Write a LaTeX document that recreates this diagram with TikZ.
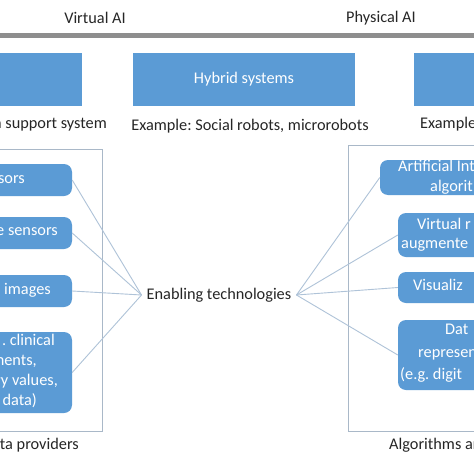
\documentclass[tikz,border=0pt]{standalone}
\usepackage{fontspec}
\setmainfont{Carlito}
\frenchspacing
\definecolor{boxblue}{HTML}{5B9BD5}
\definecolor{framecol}{HTML}{A9B8C8}
\definecolor{linecol}{HTML}{AFC3D8}
\definecolor{barcol}{HTML}{8E8E8E}
\begin{document}
\begin{tikzpicture}[x=1pt,y=-1pt,
  flat/.style={fill=boxblue,draw=none,inner sep=0pt},
  rbox/.style={fill=boxblue,draw=none,rounded corners=8pt,inner sep=0pt},
  frame/.style={draw=framecol,line width=0.9pt},
  conn/.style={draw=linecol,line width=0.9pt},
  lbl/.style={font=\fontsize{16.3}{19}\selectfont,text=black!85,inner sep=0pt},
  wtxt/.style={font=\fontsize{16.3}{19}\selectfont,text=white,inner sep=0pt}]
\useasboundingbox (0,0) rectangle (474,474);
\clip (0,0) rectangle (474,474);
\fill[white] (0,0) rectangle (474,474);
% header
\node[lbl] (va) at (95,18) {Virtual AI};
\node[lbl] (pa) at (381,18) {Physical AI};
\draw[barcol,line width=4.5pt] (-5,35.5) -- (480,35.5);
% top boxes
\node[flat,minimum width=92pt,minimum height=53pt] (tl) at (36,79.5) {};
\node[flat,minimum width=222pt,minimum height=53pt] (tm) at (244,79.5) {};
\node[wtxt] at (244,79.5) {Hybrid systems};
\node[flat,minimum width=70pt,minimum height=53pt] (tr) at (449,79.5) {};
\node[lbl,anchor=mid east] (c1) at (107,126) {ta support system};
\node[lbl] (c2) at (250,126) {Example: Social robots, microrobots};
\node[lbl,anchor=mid west] (c3) at (420,126) {Example};
% frames
\draw[frame] (-5,149) rectangle (102,431);
\draw[frame] (348,145) rectangle (480,431);
% left boxes
\node[rbox,minimum width=92pt,minimum height=32pt] (b1) at (26,180) {};
\node[rbox,minimum width=92pt,minimum height=32pt] (b2) at (26,233) {};
\node[rbox,minimum width=92pt,minimum height=32pt] (b3) at (26,291) {};
\node[rbox,minimum width=92pt,minimum height=81pt] (b4) at (26,372.5) {};
\node[wtxt,anchor=mid east] at (25,181) {sors};
\node[wtxt,anchor=mid east] at (58,233) {e sensors};
\node[wtxt,anchor=mid east] at (51,292) {l images};
\node[wtxt,anchor=mid east] at (55,343) {. clinical};
\node[wtxt,anchor=mid east] at (37,363) {nents,};
\node[wtxt,anchor=mid east] at (58,383) {ry values,};
\node[wtxt,anchor=mid east] at (37,403) {data)};
\node[lbl,anchor=mid east] (c4) at (79,447) {ta providers};
% right boxes
\node[rbox,minimum width=110pt,minimum height=35pt] (r1) at (435,177.5) {};
\node[rbox,minimum width=100pt,minimum height=44pt] (r2) at (448,235) {};
\node[rbox,minimum width=100pt,minimum height=31pt] (r3) at (448,287.5) {};
\node[rbox,minimum width=100pt,minimum height=70pt] (r4) at (448,355) {};
\node[wtxt,anchor=mid west] at (398,169) {Artificial Int};
\node[wtxt,anchor=mid west] at (430,189) {algorit};
\node[wtxt,anchor=mid west] at (417,227) {Virtual r};
\node[wtxt,anchor=mid west] at (401,246) {augmente};
\node[wtxt,anchor=mid west] at (413,288) {Visualiz};
\node[wtxt,anchor=mid west] at (445,332) {Dat};
\node[wtxt,anchor=mid west] at (418,355) {represen};
\node[wtxt,anchor=mid west] at (400,377) {(e.g. digit};
\node[lbl,anchor=mid west] (c5) at (389,447) {Algorithms ar};
% centre
\node[lbl,inner xsep=5pt] (et) at (219,295) {Enabling technologies};
\draw[conn] (b1.east) -- (et.west);
\draw[conn] (b2.east) -- (et.west);
\draw[conn] (b3.east) -- (et.west);
\draw[conn] (b4.east) -- (et.west);
\draw[conn] (r1.west) -- (et.east);
\draw[conn] (r2.west) -- (et.east);
\draw[conn] (r3.west) -- (et.east);
\draw[conn] (r4.west) -- (et.east);
\end{tikzpicture}
\end{document}
